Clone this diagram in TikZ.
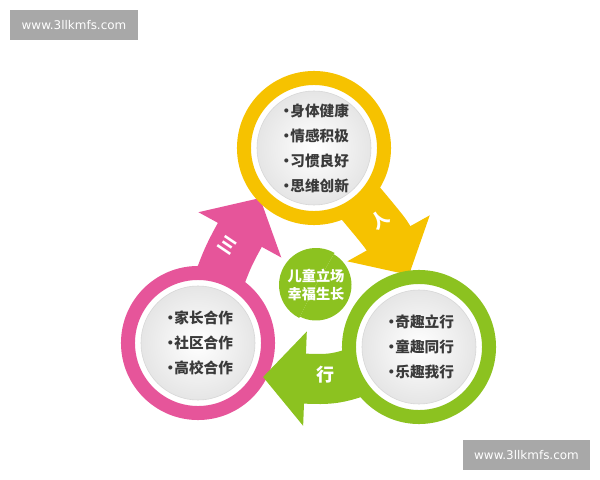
\documentclass[tikz,border=0pt]{standalone}
\usepackage{fontspec}
\setmainfont{Noto Sans CJK SC}
\newfontfamily\webfont{DejaVu Sans}
\usetikzlibrary{arrows.meta}

\definecolor{sunyellow}{RGB}{246,194,0}
\definecolor{rosepink}{RGB}{230,85,154}
\definecolor{leafgreen}{RGB}{140,194,32}
\definecolor{listgray}{RGB}{58,58,58}
\definecolor{webgray}{RGB}{168,168,168}

\newcommand{\listdot}{•\kern-0.22em}

\begin{document}
\begin{tikzpicture}[x=0.025cm,y=-0.025cm,
    ring/.style={circle,draw=#1,line width=0.35cm,fill=white,minimum size=3.5cm,inner sep=0pt},
    disk/.style={circle,draw=black!16,line width=0.4pt,inner color=white,outer color=black!10,
        minimum size=2.85cm,inner sep=0pt,align=left,text=listgray,
        font=\bfseries\fontsize{10.4pt}{17.8pt}\selectfont},
    flow/.style={draw=#1,line width=1.25cm,-{Triangle[width=2.3cm 0 0,length=1.05cm 0 0]}},
    tag/.style={text=white,font=\bfseries\fontsize{12.8pt}{12.8pt}\selectfont},
    webmark/.style={fill=webgray,text=white,font=\webfont\fontsize{8.5pt}{8.5pt}\selectfont,
        minimum height=0.75cm,inner sep=0pt}]

    \useasboundingbox (0,0) rectangle (600,480);

    % watermarks
    \node[webmark,minimum width=3.2cm] (webtop) at (74,25) {www.3llkmfs.com};
    \node[webmark,minimum width=3.175cm] (webbottom) at (526.5,455) {www.3llkmfs.com};

    % centres and arrow tips
    \coordinate (pink) at (198,343);
    \coordinate (yellow) at (314,148);
    \coordinate (green) at (419,347);
    \coordinate (ptip) at (260,198);
    \coordinate (ytip) at (409,275);
    \coordinate (gtip) at (263,377);

    \draw[flow=rosepink] (pink) .. controls (225,262) .. (ptip);
    \draw[flow=sunyellow] (yellow) .. controls (385,232) .. (ytip);

    \node[ring=rosepink] (pinkring) at (pink) {};
    \node[disk] (pinklist) at (pink) {\listdot 家长合作\\\listdot 社区合作\\\listdot 高校合作};

    \node[ring=sunyellow] (yellowring) at (yellow) {};
    \node[disk] (yellowlist) at (yellow) {\listdot 身体健康\\\listdot 情感积极\\\listdot 习惯良好\\\listdot 思维创新};

    \draw[flow=leafgreen] (green) .. controls (340,380) .. (gtip);

    \node[ring=leafgreen] (greenring) at (green) {};
    \node[disk] (greenlist) at (green) {\listdot 奇趣立行\\\listdot 童趣同行\\\listdot 乐趣我行};

    % centre badge
    \coordinate (hub) at (316,285);
    \fill[leafgreen] (hub) -- ++(-60:37) arc[start angle=-60,end angle=-243,radius=37] -- cycle;
    \fill[leafgreen] (hub) -- ++(-243:35.5) arc[start angle=-243,end angle=-420,radius=35.5] -- cycle;
    \node[align=center,text=white,font=\bfseries\fontsize{10.1pt}{12.8pt}\selectfont] (hubtext) at (hub) {儿童立场\\幸福生长};

    % arrow labels
    \node[tag,rotate=-34] (sanlabel) at (228,245) {三};
    \node[tag,rotate=35] (renlabel) at (380,220) {人};
    \node[tag] (xinglabel) at (325,375) {行};

\end{tikzpicture}
\end{document}
